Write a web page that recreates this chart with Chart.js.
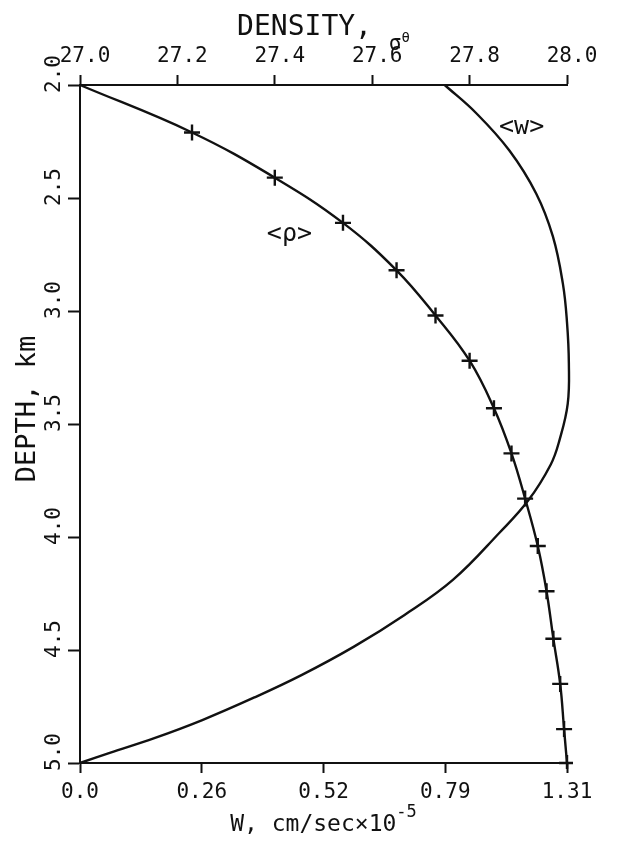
<!DOCTYPE html>
<html>
<head>
<meta charset="utf-8">
<script src="https://cdn.jsdelivr.net/npm/chart.js@4.4.1/dist/chart.umd.min.js"></script>
<style>
html,body{margin:0;padding:0;background:#fff;}
#wrap{width:628px;height:848px;}
</style>
</head>
<body>
<div id="wrap"><canvas id="chart" width="628" height="848"></canvas></div>
<script>
// ── Data ─────────────────────────────────────
// <rho> profile: depth (km) vs sigma-theta, crosses every ~0.2 km
const rhoDepth = [2.00, 2.21, 2.41, 2.61, 2.82, 3.02, 3.22, 3.43, 3.63, 3.83, 4.04, 4.24, 4.45, 4.65, 4.85, 5.00];
const rhoSigma = [27.00, 27.23, 27.40, 27.54, 27.65, 27.73, 27.80, 27.85, 27.886, 27.914, 27.94, 27.958, 27.972, 27.986, 27.994, 28.00];

// <w> profile: depth (km) vs W (cm/sec x 1e-5)
const wDepth = [2.00, 2.125, 2.29, 2.48, 2.67, 2.88, 3.05, 3.23, 3.41, 3.57, 3.68, 3.84, 3.98, 4.19, 4.345, 4.485, 4.61, 4.71, 4.81, 4.89, 4.955, 5.00];
const wValue = [0.981, 1.066, 1.155, 1.227, 1.272, 1.299, 1.310, 1.315, 1.312, 1.290, 1.266, 1.205, 1.129, 1.003, 0.873, 0.737, 0.597, 0.469, 0.329, 0.200, 0.080, 0.00];

const depthTicks = [2.0, 2.5, 3.0, 3.5, 4.0, 4.5, 5.0];
const sigmaTicks = [27.0, 27.2, 27.4, 27.6, 27.8, 28.0];
const wTickLabels = ['0.0', '0.26', '0.52', '0.79', '1.31'];
const W_MAX = 1.31;

const curveLabels = [
  {text: '<ρ>', xAxis: 'xTop', x: 27.43, y: 2.66},
  {text: '<w>', xAxis: 'x', x: 1.188, y: 2.19}
];

// ── Style ────────────────────────────────────
const INK = '#111';
const mono = "'DejaVu Sans Mono', monospace";
const tickFont = {family: mono, size: 21};

function axis(extra) {
  return Object.assign({
    type: 'linear',
    border: {display: true, color: INK, width: 2},
    grid: {display: true, drawOnChartArea: false, drawTicks: true, tickLength: 10, tickWidth: 2, tickColor: INK},
  }, extra);
}

// draw a run of text pieces with their own size / baseline shift, centred on cx
function drawRuns(ctx, cx, y, runs) {
  let total = 0;
  runs.forEach(r => { ctx.font = `${r.size}px ${mono}`; r.w = ctx.measureText(r.t).width; total += r.w; });
  let x = cx - total / 2;
  runs.forEach(r => { ctx.font = `${r.size}px ${mono}`; ctx.fillText(r.t, x, y + r.dy); x += r.w; });
}

const axisText = {
  id: 'axisText',
  afterDraw(chart) {
    const {ctx, chartArea: a, scales} = chart;
    const cx = (a.left + a.right) / 2;
    ctx.save();
    ctx.fillStyle = INK;
    ctx.textAlign = 'left';
    ctx.textBaseline = 'alphabetic';

    drawRuns(ctx, cx, a.top - 50, [
      {t: 'DENSITY, ', size: 28, dy: 0},
      {t: 'σ', size: 21, dy: 15},
      {t: 'θ', size: 14, dy: 7}
    ]);
    drawRuns(ctx, cx, a.bottom + 68, [
      {t: 'W, cm/sec×10', size: 23, dy: 0},
      {t: '-5', size: 17, dy: -14}
    ]);

    ctx.save();
    ctx.translate(28, (a.top + a.bottom) / 2 - 15);
    ctx.rotate(-Math.PI / 2);
    ctx.textAlign = 'center';
    ctx.textBaseline = 'middle';
    ctx.font = `27px ${mono}`;
    ctx.fillText('DEPTH, km', 0, 0);
    ctx.restore();

    ctx.font = `25px ${mono}`;
    ctx.textAlign = 'center';
    ctx.textBaseline = 'middle';
    curveLabels.forEach(l => {
      ctx.fillText(l.text, scales[l.xAxis].getPixelForValue(l.x), scales.y.getPixelForValue(l.y));
    });
    ctx.restore();
  }
};

// ── Chart ────────────────────────────────────
new Chart(document.getElementById('chart'), {
  type: 'scatter',
  data: {datasets: [
    {
      label: 'rho', xAxisID: 'xTop', yAxisID: 'y',
      data: rhoDepth.map((d, i) => ({x: rhoSigma[i], y: d})),
      showLine: true, borderColor: INK, borderWidth: 2.4, tension: 0.4, clip: 6,
      pointStyle: 'cross', pointRadius: c => c.dataIndex === 0 ? 0 : 8,
      pointBorderWidth: 2.4, pointBorderColor: INK, pointBackgroundColor: INK
    },
    {
      label: 'w', xAxisID: 'x', yAxisID: 'y',
      data: wDepth.map((d, i) => ({x: wValue[i], y: d})),
      showLine: true, borderColor: INK, borderWidth: 2.4, tension: 0.4, clip: 6,
      pointRadius: 0
    }
  ]},
  options: {
    responsive: false, animation: false, devicePixelRatio: 1, events: [],
    layout: {padding: {left: 0, right: 61, top: 0, bottom: 0}},
    plugins: {legend: {display: false}, tooltip: {enabled: false}},
    scales: {
      x: axis({
        position: 'bottom', min: 0, max: W_MAX,
        afterBuildTicks: s => { s.ticks = wTickLabels.map((_, i) => ({value: W_MAX * i / (wTickLabels.length - 1)})); },
        ticks: {color: INK, font: tickFont, autoSkip: false, maxRotation: 0, padding: 7, callback: (v, i) => wTickLabels[i]},
        afterFit: s => { s.height = 85; }
      }),
      xTop: axis({
        position: 'top', min: 27, max: 28,
        afterBuildTicks: s => { s.ticks = sigmaTicks.map(v => ({value: v})); },
        ticks: {color: INK, font: tickFont, autoSkip: false, maxRotation: 0, padding: 6, labelOffset: 5, callback: v => v.toFixed(1)},
        afterFit: s => { s.height = 85; }
      }),
      y: axis({
        position: 'left', min: 2, max: 5, reverse: true,
        grid: {display: true, drawOnChartArea: false, drawTicks: true, tickLength: 12, tickWidth: 2, tickColor: INK},
        afterBuildTicks: s => { s.ticks = depthTicks.map(v => ({value: v})); },
        ticks: {color: INK, font: tickFont, autoSkip: false, minRotation: 90, maxRotation: 90, crossAlign: 'center', padding: -6, labelOffset: -11, callback: v => v.toFixed(1)},
        afterFit: s => { s.width = 80; }
      })
    }
  },
  plugins: [axisText]
});
</script>
</body>
</html>
